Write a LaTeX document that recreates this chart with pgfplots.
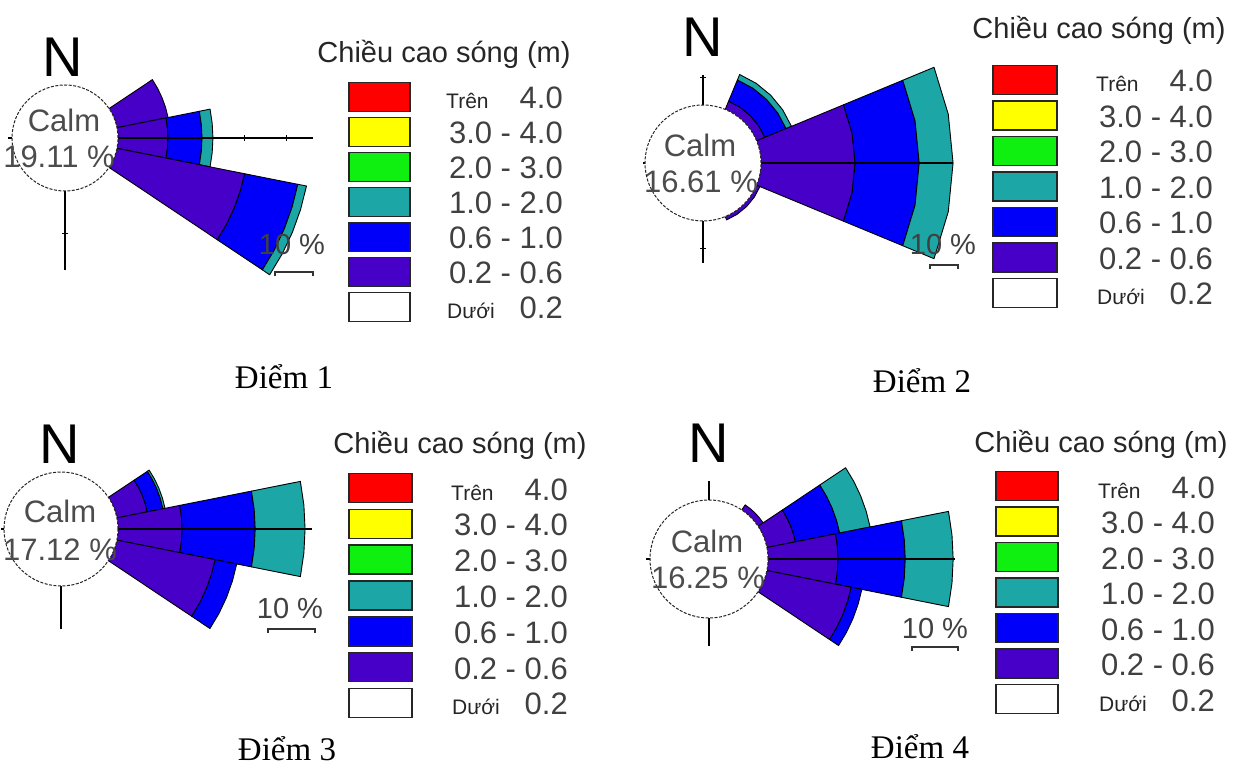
\documentclass[border=0pt]{standalone}
\usepackage{pgfplots}
\pgfplotsset{compat=1.18}
\usepackage{fontspec}
\setmainfont{Liberation Sans}
\newfontfamily\serifvn{Liberation Serif}
\definecolor{cRed}{HTML}{FF0000}
\definecolor{cYel}{HTML}{FFFF00}
\definecolor{cGrn}{HTML}{10F010}
\definecolor{cTeal}{HTML}{1CA6A6}
\definecolor{cBlue}{HTML}{0000FA}
\definecolor{cPurp}{HTML}{4600C8}

% one ring segment of a sector: #1 direction (deg), #2 half width, #3 inner radius, #4 outer radius, #5 colour
\newcommand{\seg}[5]{%
  \pgfmathsetmacro\aA{#1-#2}%
  \pgfmathsetmacro\aB{#1-#2/2}%
  \pgfmathsetmacro\aC{#1+#2/2}%
  \pgfmathsetmacro\aD{#1+#2}%
  \edef\segcmd{\noexpand\addplot[fill=#5,draw=black,line width=0.9pt,line join=round,data cs=polar] coordinates {(\aA,#3) (\aB,#3) (#1,#3) (\aC,#3) (\aD,#3) (\aD,#4) (\aC,#4) (#1,#4) (\aB,#4) (\aA,#4)} -- cycle;}%
  \segcmd}
% sector: #1 direction, #2 half width, #3 calm radius, #4 % 0.2-0.6, #5 % 0.6-1.0, #6 % 1.0-2.0
\newcommand{\sector}[6]{%
  \pgfmathsetmacro\rA{#3+#4}%
  \pgfmathsetmacro\rB{\rA+#5}%
  \pgfmathsetmacro\rC{\rB+#6}%
  \ifdim #4pt>0pt \seg{#1}{#2}{#3}{\rA}{cPurp}\fi
  \ifdim #5pt>0pt \seg{#1}{#2}{\rA}{\rB}{cBlue}\fi
  \ifdim #6pt>0pt \seg{#1}{#2}{\rB}{\rC}{cTeal}\fi
}
\pgfplotsset{rose/.style={anchor=center,hide axis,clip=false}}

\newcommand{\numfont}{\fontsize{31}{36}\selectfont}
\newcommand{\smallfont}{\fontsize{21}{25}\selectfont}
\newcommand{\legendblock}[7]{%
  \node[anchor=base,text=black!85,font=\fontsize{29}{34}\selectfont,inner sep=0pt] at (#1,#2) {Chiều cao sóng (m)};
  \foreach \i/\col in {0/cRed,1/cYel,2/cGrn,3/cTeal,4/cBlue,5/cPurp,6/white}{
    \pgfmathsetmacro\yc{#5+\i*#6}
    \draw[fill=\col,draw=black!85,line width=1.6pt] (#3,\yc-14.5) rectangle (#4,\yc+14.5);
  }
  \foreach \i/\lab in {1/3.0 - 4.0,2/2.0 - 3.0,3/1.0 - 2.0,4/0.6 - 1.0,5/0.2 - 0.6}{
    \pgfmathsetmacro\yb{#5+\i*#6+12}
    \node[anchor=base east,font=\numfont,text=black!75,inner sep=0pt] at (#7,\yb) {\lab};
  }
  \pgfmathsetmacro\yb{#5+12}
  \node[anchor=base east,font=\numfont,text=black!75,inner sep=0pt] at (#7,\yb) {4.0};
  \node[anchor=base west,font=\smallfont,text=black!85,inner sep=0pt] at (#7-117,\yb) {Trên};
  \pgfmathsetmacro\yb{#5+6*#6+12}
  \node[anchor=base east,font=\numfont,text=black!75,inner sep=0pt] at (#7,\yb) {0.2};
  \node[anchor=base west,font=\smallfont,text=black!85,inner sep=0pt] at (#7-116,\yb) {Dưới};
}
\newcommand{\scalebar}[5]{% text x, text baseline, bar x1, bar x2, bar y
  \node[anchor=base,font=\fontsize{29}{34}\selectfont,text=black!75,inner sep=0pt] at (#1,#2) {10 \%};
  \draw[line width=1.4pt,black!80] (#3,#5+4) -- (#3,#5) -- (#4,#5) -- (#4,#5+4);
}

\begin{document}
\begin{tikzpicture}[x=1pt,y=1pt]
\useasboundingbox (0pt,0pt) rectangle (1246pt,769pt);

% ---------------- Diem 1 ----------------
\begin{axis}[rose,at={(65pt,631pt)},x=4.2pt,y=4.2pt,xmin=-60,xmax=60,ymin=-40,ymax=40]
\sector{22.5}{11.25}{12.62}{12.4}{0}{0}
\sector{0}{11.25}{12.62}{11.9}{8.1}{2.6}
\sector{-22.5}{11.25}{12.62}{31.0}{12.9}{2.1}
\addplot[black,line width=1.3pt] coordinates {(-13.6,0) (59,0)};
\addplot[black,line width=1.3pt] coordinates {(0,-12.62) (0,-31.4)};
\addplot[only marks,mark=|,mark size=3pt,black,line width=1pt] coordinates {(42.62,0) (52.62,0)};
\addplot[only marks,mark=-,mark size=3pt,black,line width=1pt] coordinates {(0,-22.62)};
\draw[fill=white,draw=black!85,line width=1pt,dash pattern=on 3pt off 1.5pt] (axis cs:0,0) circle[radius=53pt];
\end{axis}

% ---------------- Diem 2 ----------------
\begin{axis}[rose,at={(703pt,606pt)},x=2.8pt,y=2.8pt,xmin=-95,xmax=95,ymin=-50,ymax=50]
\sector{45}{22.5}{20.71}{3.2}{8.2}{2.1}
\sector{0}{22.5}{20.71}{33.6}{22.9}{12.1}
\sector{-45}{22.5}{20.71}{1.3}{0}{0}
\addplot[black,line width=1.3pt] coordinates {(-21.4,0) (89.3,0)};
\addplot[black,line width=1.3pt] coordinates {(0,20.71) (0,31.4)};
\addplot[black,line width=1.3pt] coordinates {(0,-20.71) (0,-35.7)};
\addplot[only marks,mark=-,mark size=3pt,black,line width=1pt] coordinates {(0,30.71) (0,-30.71)};
\draw[fill=white,draw=black!85,line width=1pt,dash pattern=on 3pt off 1.5pt] (axis cs:0,0) circle[radius=58pt];
\end{axis}

% ---------------- Diem 3 ----------------
\begin{axis}[rose,at={(61pt,240pt)},x=4.3pt,y=4.3pt,xmin=-60,xmax=60,ymin=-30,ymax=30]
\sector{22.5}{11.25}{13.26}{7.2}{3.7}{0.5}
\sector{0}{11.25}{13.26}{14.9}{17.0}{11.6}
\sector{-22.5}{11.25}{13.26}{23.3}{5.1}{0}
\addplot[black,line width=1.3pt] coordinates {(-14,0) (58.4,0)};
\addplot[black,line width=1.3pt] coordinates {(0,-13.26) (0,-23.3)};
\draw[fill=white,draw=black!85,line width=1pt,dash pattern=on 3pt off 1.5pt] (axis cs:0,0) circle[radius=57pt];
\end{axis}

% ---------------- Diem 4 ----------------
\begin{axis}[rose,at={(709pt,210pt)},x=4.7pt,y=4.7pt,xmin=-55,xmax=55,ymin=-30,ymax=30]
\sector{45}{11.25}{12.55}{1.3}{0}{0}
\sector{22.5}{11.25}{12.55}{6.2}{9.6}{6.6}
\sector{0}{11.25}{12.55}{14.9}{14.3}{10.2}
\sector{-22.5}{11.25}{12.55}{18.3}{2.3}{0}
\addplot[black,line width=1.3pt] coordinates {(-13.4,0) (52.3,0)};
\addplot[black,line width=1.3pt] coordinates {(0,12.55) (0,16.6)};
\addplot[black,line width=1.3pt] coordinates {(0,-12.55) (0,-18.5)};
\draw[fill=white,draw=black!85,line width=1pt,dash pattern=on 3pt off 1.5pt] (axis cs:0,0) circle[radius=59pt];
\end{axis}

% ---------------- texts (image coordinates, y downwards) ----------------
\begin{scope}[shift={(0pt,769pt)},y=-1pt]
\tikzset{nfont/.style={anchor=base,inner sep=0pt,font=\fontsize{56}{60}\selectfont,text=black},
         cfont/.style={anchor=base,inner sep=0pt,font=\fontsize{31}{36}\selectfont,text=black!70},
         capfont/.style={anchor=base,inner sep=0pt,font=\serifvn\fontsize{33}{38}\selectfont,text=black}}
\node[nfont] at (63,77) {N};
\node[nfont] at (703,57) {N};
\node[nfont] at (60,463) {N};
\node[nfont] at (709,462) {N};

\node[cfont] at (64,132) {Calm};
\node[cfont] at (59,168) {19.11 \%};
\node[cfont] at (700,157) {Calm};
\node[cfont] at (701,193) {16.61 \%};
\node[cfont] at (60,522) {Calm};
\node[cfont] at (60,560) {17.12 \%};
\node[cfont] at (707,552) {Calm};
\node[cfont] at (708,588) {16.25 \%};

\scalebar{292}{255}{275}{313}{272}
\scalebar{943}{255}{930}{958}{265}
\scalebar{290}{618}{268}{315}{629}
\scalebar{935}{638}{912}{958}{647}

\legendblock{444}{63}{349}{410}{97}{35}{563}
\legendblock{1099}{39}{993}{1057}{80}{35.5}{1213}
\legendblock{460}{453}{349}{412}{488}{35.8}{568}
\legendblock{1101}{452}{996}{1058}{486}{35.5}{1215}

\node[capfont] at (284,388) {Điểm 1};
\node[capfont] at (922,393) {Điểm 2};
\node[capfont] at (287,760) {Điểm 3};
\node[capfont] at (920,758) {Điểm 4};
\end{scope}
\end{tikzpicture}
\end{document}
